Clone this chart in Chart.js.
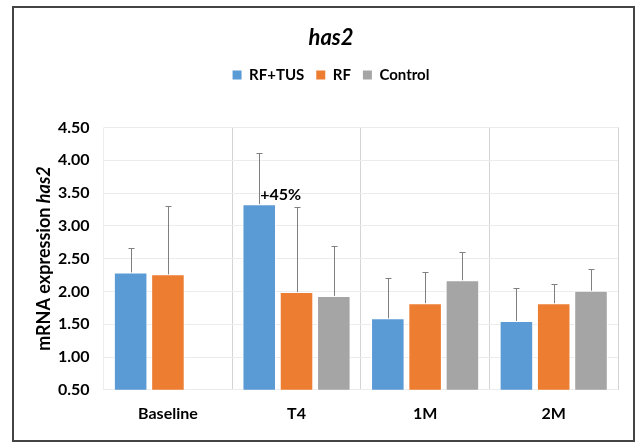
<!DOCTYPE html>
<html>
<head>
<meta charset="utf-8">
<script src="https://cdn.jsdelivr.net/npm/chart.js@4"></script>
<style>
html, body { margin: 0; padding: 0; background: #fff; }
</style>
</head>
<body>
<canvas id="has2-chart" width="636" height="442"></canvas>
<script>
// data
var categories = ["Baseline", "T4", "1M", "2M"];
var seriesNames = ["RF+TUS", "RF", "Control"];
var rfTus = [2.29, 3.33, 1.59, 1.55];
var rf = [2.26, 1.99, 1.82, 1.82];
var control = [null, 1.93, 2.17, 2.01];
// upper error (SD) per bar
var rfTusErr = [0.37, 0.78, 0.62, 0.50];
var rfErr = [1.04, 1.29, 0.48, 0.29];
var controlErr = [null, 0.76, 0.43, 0.33];
// text over RF+TUS bars
var rfTusNotes = [null, "+45%", null, null];
var yMin = 0.5, yMax = 4.5, yStep = 0.5;

var FONT = "Lato, 'Open Sans', sans-serif";
var colors = ["#5B9BD5", "#ED7D31", "#A5A5A5"];
var errors = [rfTusErr, rfErr, controlErr];
var notes = [rfTusNotes, null, null];

var extras = {
    id: "extras",
    beforeInit: function(chart) {
        // push the plot area down below the legend
        var legend = chart.legend;
        var fit = legend.fit;
        legend.fit = function() {
            fit.call(legend);
            this.height += 35;
        };
    },
    afterDatasetsDraw: function(chart) {
        var ctx = chart.ctx;
        var y = chart.scales.y;
        ctx.save();
        ctx.strokeStyle = "#7F7F7F";
        ctx.lineWidth = 1;
        chart.data.datasets.forEach(function(ds, i) {
            var meta = chart.getDatasetMeta(i);
            meta.data.forEach(function(bar, j) {
                var v = ds.data[j];
                var e = errors[i][j];
                if (v == null || e == null) return;
                var x = Math.round(bar.x) + 0.5;
                var top = Math.round(y.getPixelForValue(v + e)) + 0.5;
                ctx.beginPath();
                ctx.moveTo(x, bar.y);
                ctx.lineTo(x, top);
                ctx.moveTo(x - 3, top);
                ctx.lineTo(x + 3, top);
                ctx.stroke();
            });
            if (notes[i]) {
                ctx.fillStyle = "#000";
                ctx.font = "bold 16px " + FONT;
                ctx.textAlign = "left";
                ctx.textBaseline = "bottom";
                meta.data.forEach(function(bar, j) {
                    if (notes[i][j]) ctx.fillText(notes[i][j], bar.x + 1, bar.y - 1);
                });
            }
        });
        ctx.restore();
    },
    afterDraw: function(chart) {
        var ctx = chart.ctx;
        var area = chart.chartArea;
        ctx.save();
        // y axis title, part of it in italics
        var a = "mRNA expression ", b = "has2";
        var fa = "bold 18px " + FONT, fb = "italic bold 18px " + FONT;
        ctx.font = fa;
        var wa = ctx.measureText(a).width;
        ctx.font = fb;
        var wb = ctx.measureText(b).width;
        ctx.translate(44, (area.top + area.bottom) / 2);
        ctx.rotate(-Math.PI / 2);
        ctx.fillStyle = "#000";
        ctx.textBaseline = "middle";
        ctx.textAlign = "left";
        ctx.font = fa;
        ctx.fillText(a, -(wa + wb) / 2, 0);
        ctx.font = fb;
        ctx.fillText(b, -(wa + wb) / 2 + wa, 0);
        ctx.restore();
        // frame round the whole figure
        ctx.save();
        ctx.strokeStyle = "#444";
        ctx.lineWidth = 2;
        ctx.strokeRect(13, 7, 621, 434);
        ctx.restore();
    }
};

new Chart(document.getElementById("has2-chart"), {
    type: "bar",
    data: {
        labels: categories,
        datasets: [
            { label: seriesNames[0], data: rfTus, backgroundColor: colors[0], borderColor: "#fff", borderWidth: 1 },
            { label: seriesNames[1], data: rf, backgroundColor: colors[1], borderColor: "#fff", borderWidth: 1 },
            { label: seriesNames[2], data: control, backgroundColor: colors[2], borderColor: "#fff", borderWidth: 1 }
        ]
    },
    options: {
        responsive: false,
        animation: false,
        categoryPercentage: 0.87,
        barPercentage: 0.9,
        layout: { padding: { top: 25, left: 44, right: 18, bottom: 5 } },
        plugins: {
            title: {
                display: true,
                text: "has2",
                color: "#000",
                font: { family: FONT, size: 22, weight: "bold", style: "italic" },
                padding: { top: 0, bottom: 4 }
            },
            legend: {
                display: true,
                labels: {
                    color: "#000",
                    boxWidth: 9,
                    boxHeight: 9,
                    padding: 12,
                    font: { family: FONT, size: 15, weight: "bold" },
                    generateLabels: function(chart) {
                        return chart.data.datasets.map(function(ds, i) {
                            return { text: ds.label, fillStyle: colors[i], strokeStyle: colors[i], lineWidth: 0, datasetIndex: i, fontColor: "#000" };
                        });
                    }
                }
            },
            tooltip: { enabled: false }
        },
        scales: {
            x: {
                grid: {
                    offset: true,
                    drawTicks: false,
                    color: function(c) {
                        return (c.index === 0 || c.index === categories.length) ? "#EDEDED" : "#D4D4D4";
                    }
                },
                border: { display: false },
                ticks: { color: "#000", padding: 14, font: { family: FONT, size: 16, weight: "bold" } }
            },
            y: {
                min: yMin,
                max: yMax,
                grid: { color: "#ECECEC", drawTicks: false },
                border: { display: false },
                ticks: {
                    stepSize: yStep,
                    padding: 14,
                    color: "#000",
                    font: { family: FONT, size: 16, weight: "bold" },
                    callback: function(v) { return Number(v).toFixed(2); }
                }
            }
        }
    },
    plugins: [extras]
});
</script>
</body>
</html>
